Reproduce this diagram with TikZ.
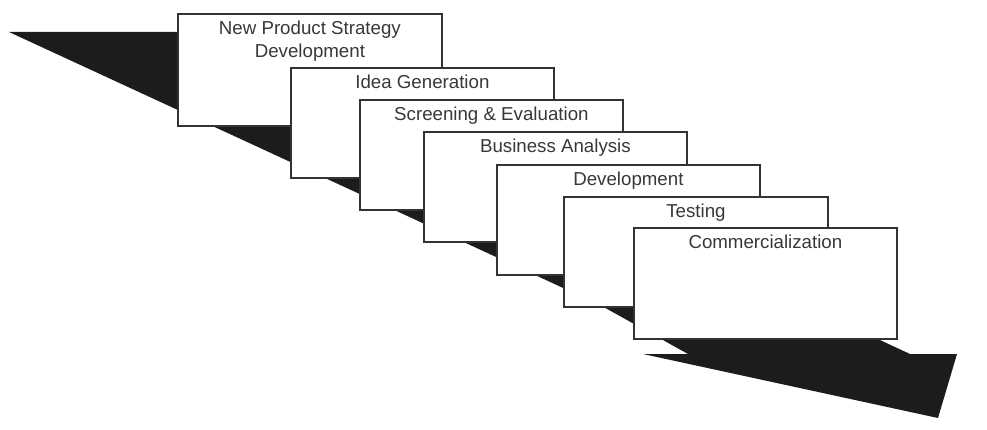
\documentclass[tikz,border=0pt]{standalone}
\usepackage{fontspec}
\setmainfont{Liberation Sans}
\definecolor{bandblack}{HTML}{1C1C1C}
\definecolor{edgegray}{HTML}{333333}
\definecolor{textgray}{HTML}{383838}
\begin{document}
\begin{tikzpicture}[x=1pt,y=-1pt,
  stagebox/.style={draw=edgegray,line width=1.8pt,fill=white,anchor=north west,inner sep=0pt},
  lbl/.style={text=textgray,font=\fontsize{18.7}{23}\selectfont,inner sep=0pt,align=center,anchor=north}]
\useasboundingbox (0,0) rectangle (987,430);
% the black band arrow
\fill[bandblack] (9,32) -- (218,32) -- (910,354) -- (957,354) -- (938,418) -- (643,354) -- (688,354) -- (600,305) -- cycle;
% stage boxes
\node[stagebox,minimum width=264pt,minimum height=112pt] (b1) at (177,13) {};
\node[stagebox,minimum width=263pt,minimum height=110pt] (b2) at (290,67) {};
\node[stagebox,minimum width=263pt,minimum height=110pt] (b3) at (359,99) {};
\node[stagebox,minimum width=263pt,minimum height=110pt] (b4) at (423,131) {};
\node[stagebox,minimum width=263pt,minimum height=110pt] (b5) at (496,164) {};
\node[stagebox,minimum width=264pt,minimum height=110pt] (b6) at (563,196) {};
\node[stagebox,minimum width=263pt,minimum height=111pt] (b7) at (633,227) {};
% labels
\node[lbl] (t1) at ([yshift=-8pt]b1.north) {New Product Strategy\\Development};
\node[lbl] (t2) at ([yshift=-7.5pt]b2.north) {Idea Generation};
\node[lbl] (t3) at ([yshift=-7.5pt]b3.north) {Screening \& Evaluation};
\node[lbl] (t4) at ([yshift=-8pt]b4.north) {Business Analysis};
\node[lbl] (t5) at ([yshift=-8pt]b5.north) {Development};
\node[lbl] (t6) at ([yshift=-8pt]b6.north) {Testing};
\node[lbl] (t7) at ([yshift=-8pt]b7.north) {Commercialization};
\end{tikzpicture}
\end{document}
